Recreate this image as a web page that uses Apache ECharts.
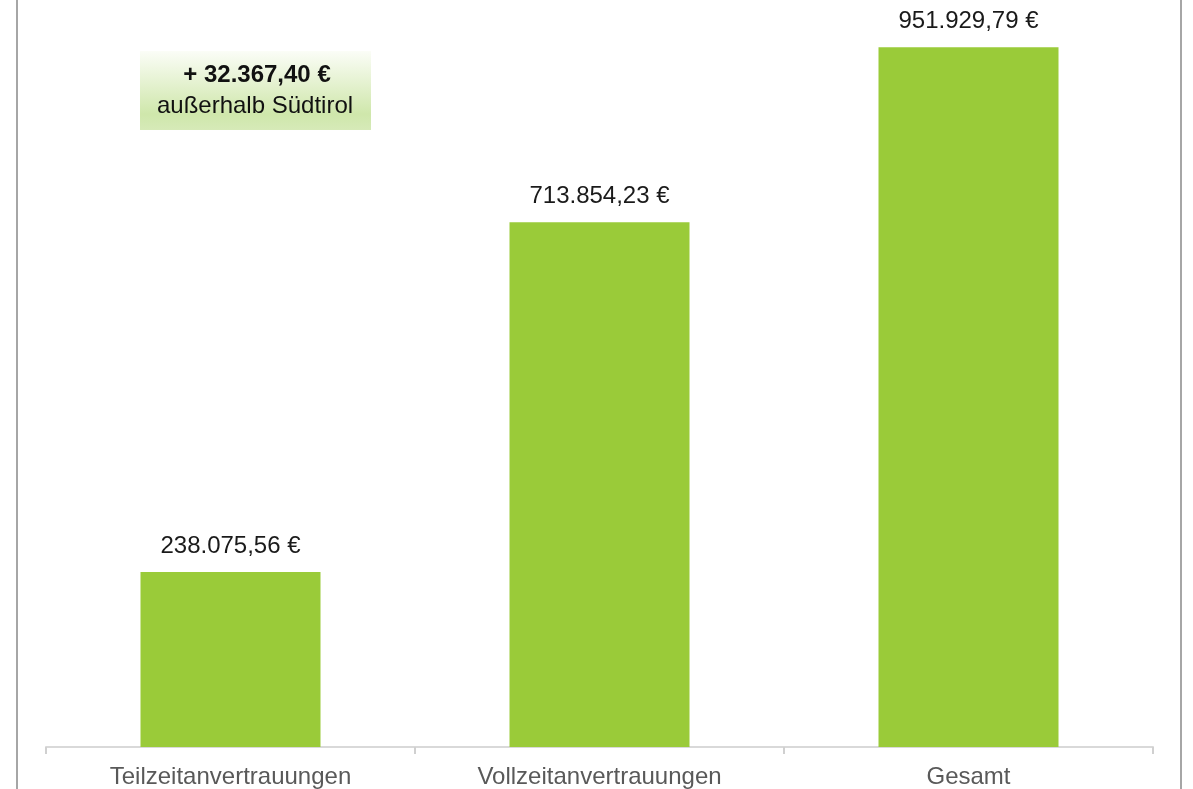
<!DOCTYPE html>
<html>
<head>
<meta charset="utf-8">
<script src="https://cdn.jsdelivr.net/npm/echarts@6/dist/echarts.min.js"></script>
<style>
  html, body { margin: 0; padding: 0; background: #fff; }
  #bar { width: 1193px; height: 789px; }
</style>
</head>
<body>
<div id="bar"></div>
<script>
// Daten
var categories = ['Teilzeitanvertrauungen', 'Vollzeitanvertrauungen', 'Gesamt'];
var values = [238075.56, 713854.23, 951929.79];
var extraTitle = '+ 32.367,40 €';
var extraText = 'außerhalb Südtirol';

// Zahlen im deutschen Format
function fmtEuro(v) {
    var parts = v.toFixed(2).split('.');
    var int = parts[0].replace(/\B(?=(\d{3})+(?!\d))/g, '.');
    return int + ',' + parts[1] + ' €';
}

var myChart = echarts.init(document.getElementById('bar'));

var option = {
    animation: false,
    grid: { left: 46, right: 40, top: 12, bottom: 42 },
    xAxis: {
        type: 'category',
        data: categories,
        axisLine: { lineStyle: { color: '#d9d9d9', width: 2 } },
        axisTick: { show: true, interval: 0, length: 7, lineStyle: { color: '#d0d0d0', width: 2 } },
        axisLabel: {
            color: '#595959',
            fontFamily: 'Liberation Sans',
            fontSize: 24,
            margin: 18
        }
    },
    yAxis: {
        type: 'value',
        min: 0,
        max: 1000000,
        show: false,
        splitLine: { show: false }
    },
    series: [{
        type: 'bar',
        data: values,
        barWidth: 180,
        itemStyle: { color: '#9acb39' },
        label: {
            show: true,
            position: 'top',
            distance: 14,
            color: '#1a1a1a',
            fontFamily: 'Liberation Sans',
            fontSize: 24,
            formatter: function (p) { return fmtEuro(p.value); }
        }
    }],
    graphic: [
        // Rahmenlinien links und rechts
        { type: 'rect', left: 16, top: 0, shape: { width: 2, height: 789 }, style: { fill: '#a6a6a6' } },
        { type: 'rect', left: 1180, top: 0, shape: { width: 2, height: 789 }, style: { fill: '#a6a6a6' } },
        // Hinweisbox
        {
            type: 'rect',
            left: 140, top: 51,
            shape: { width: 231, height: 79 },
            style: {
                fill: new echarts.graphic.LinearGradient(0, 0, 0, 1, [
                    { offset: 0, color: '#fbfdf7' },
                    { offset: 0.8, color: '#cfe7ab' },
                    { offset: 1, color: '#d6eab8' }
                ])
            }
        },
        {
            type: 'text',
            x: 257, y: 75,
            style: {
                text: extraTitle,
                fill: '#111',
                font: 'bold 24px "Liberation Sans"',
                textAlign: 'center',
                textVerticalAlign: 'middle'
            }
        },
        {
            type: 'text',
            x: 255, y: 106,
            style: {
                text: extraText,
                fill: '#111',
                font: '24px "Liberation Sans"',
                textAlign: 'center',
                textVerticalAlign: 'middle'
            }
        }
    ]
};

myChart.setOption(option);
</script>
</body>
</html>
